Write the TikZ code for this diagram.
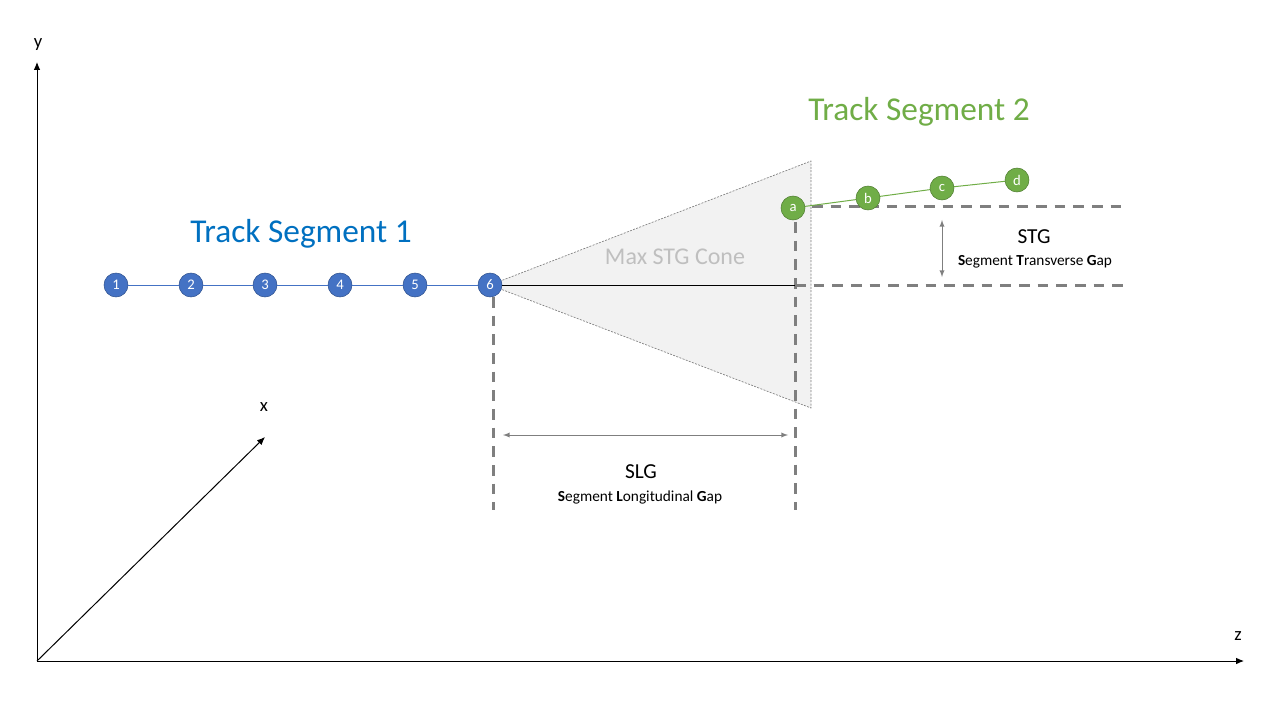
\documentclass[tikz,border=0pt]{standalone}
\usepackage{fontspec}
\setmainfont{Carlito}
\usepackage{tikz}
\usepackage{color}
\usetikzlibrary{arrows.meta}

\definecolor{segblue}{HTML}{4472C4}
\definecolor{segblueedge}{HTML}{2F528F}
\definecolor{segtitleblue}{HTML}{0070C0}
\definecolor{seggreen}{HTML}{70AD47}
\definecolor{seggreenedge}{HTML}{507E32}
\definecolor{gapgray}{HTML}{7F7F7F}
\definecolor{conefill}{HTML}{F2F2F2}
\definecolor{conetext}{HTML}{BFBFBF}

\begin{document}
\begin{tikzpicture}[x=0.75pt,y=-0.75pt,
  hitone/.style={circle,draw=segblueedge,fill=segblue,text=white,minimum size=18pt,inner sep=0pt,font=\fontsize{11}{11}\selectfont},
  hittwo/.style={circle,draw=seggreenedge,fill=seggreen,text=white,minimum size=18pt,inner sep=0pt,font=\fontsize{11}{11}\selectfont},
  gapline/.style={draw=gapgray,line width=2.25pt,dash pattern=on 8pt off 6pt},
  measure/.style={draw=gapgray,line width=0.75pt,latex-latex},
  axis/.style={line width=0.75pt,-{Latex[length=6pt,width=5pt]}},
  axislabel/.style={font=\fontsize{14}{14}\selectfont}]
\useasboundingbox (0,0) rectangle (1280,720);

% axes
\coordinate (O) at (37,661);
\coordinate (ytip) at (37,62);
\coordinate (ztip) at (1244,661);
\coordinate (xtip) at (265,437);
\draw[axis] (O) -- (ytip);
\draw[axis] (O) -- (ztip);
\draw[axis] (O) -- (xtip);
\node[axislabel] (ylab) at (38,45) {y};
\node[axislabel] (zlab) at (1238,636) {z};
\node[axislabel] (xlab) at (264,407) {x};

% cone
\coordinate (conetop) at (811,161);
\coordinate (conebot) at (811,408);
\filldraw[fill=conefill,draw=gray,line width=0.5pt,dash pattern=on 1.5pt off 1pt] (490,285) -- (conetop) -- (conebot) -- cycle;
\node[text=conetext,font=\fontsize{18}{18}\selectfont] (cone) at (675,257) {Max STG Cone};

% gaps
\coordinate (slgtop) at (493,297);
\coordinate (slgbot) at (493,510);
\coordinate (endtop) at (795,222);
\coordinate (endbot) at (795,510);
\coordinate (stgup) at (812,207);
\coordinate (stgupend) at (1125,207);
\coordinate (stglo) at (795,285);
\coordinate (stgloend) at (1125,285);
\draw[gapline] (slgtop) -- (slgbot);
\draw[gapline] (endtop) -- (endbot);
\draw[gapline] (stgup) -- (stgupend);
\draw[gapline] (stglo) -- (stgloend);

% track segment 1
\node[hitone] (1) at (116,285) {1};
\node[hitone] (2) at (191,285) {2};
\node[hitone] (3) at (265,285) {3};
\node[hitone] (4) at (340,285) {4};
\node[hitone] (5) at (415,285) {5};
\node[hitone] (6) at (490,285) {6};
\draw[segblue,line width=0.75pt] (1) -- (2) -- (3) -- (4) -- (5) -- (6);
\draw (6) -- (stglo);

% track segment 2
\node[hittwo] (a) at (793,208) {a};
\node[hittwo] (b) at (868,198) {b};
\node[hittwo] (c) at (942,188) {c};
\node[hittwo] (d) at (1017,180) {d};
\draw[seggreen,line width=0.75pt] (a) -- (b) -- (c) -- (d);

\node[text=segtitleblue,font=\fontsize{25}{25}\selectfont] (ts1) at (301,234) {Track Segment 1};
\node[text=seggreen,font=\fontsize{25}{25}\selectfont] (ts2) at (919,112) {Track Segment 2};

% SLG
\coordinate (slgl) at (503,435);
\coordinate (slgr) at (788,435);
\draw[measure] (slgl) -- (slgr);
\node[font=\fontsize{16}{16}\selectfont] (slg) at (641,472) {SLG};
\node[font=\fontsize{11.5}{12}\selectfont] (slgtxt) at (640,497) {\textbf{S}egment \textbf{L}ongitudinal \textbf{G}ap};

% STG
\coordinate (stgt) at (942,220);
\coordinate (stgb) at (942,277);
\draw[measure] (stgt) -- (stgb);
\node[font=\fontsize{16}{16}\selectfont] (stg) at (1034,237) {STG};
\node[font=\fontsize{11.5}{12}\selectfont] (stgtxt) at (1035,262) {\textbf{S}egment \textbf{T}ransverse \textbf{G}ap};
\end{tikzpicture}
\end{document}
